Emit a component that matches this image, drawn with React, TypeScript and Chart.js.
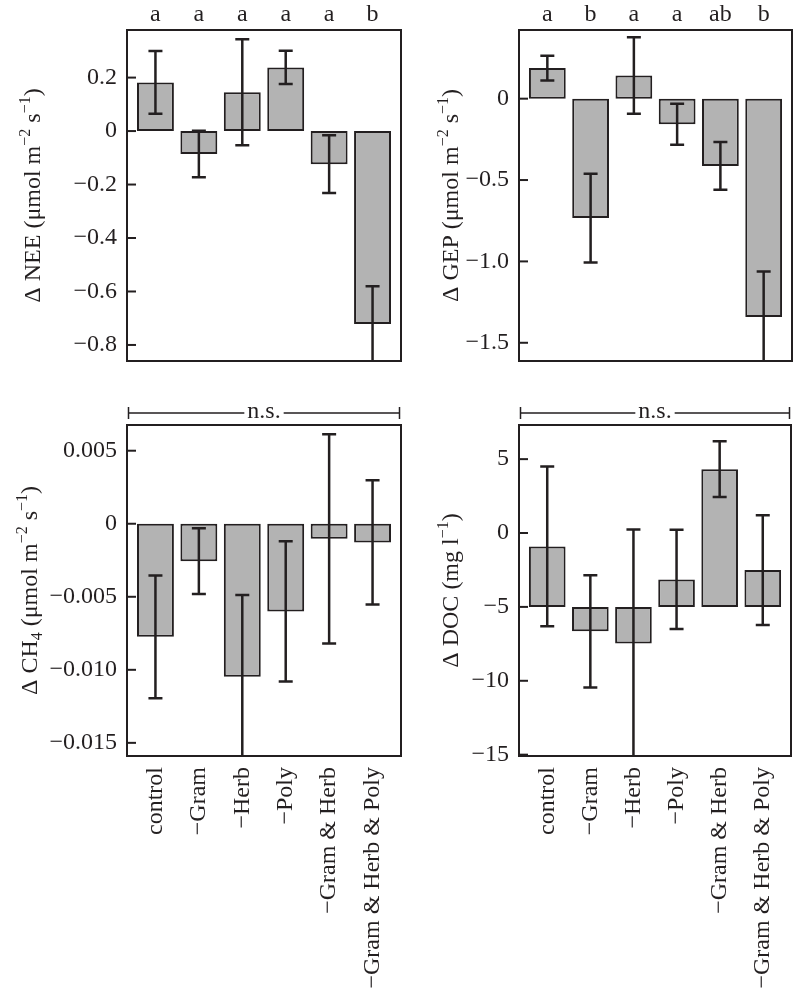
import React, { useEffect, useRef } from "react";
import { Chart, registerables } from "chart.js";

Chart.register(...registerables);

// ---------------- data ----------------
const CATEGORIES = ["control", "\u2212Gram", "\u2212Herb", "\u2212Poly", "\u2212Gram & Herb", "\u2212Gram & Herb & Poly"];

const NEE_MEAN = [0.182, -0.086, 0.145, 0.238, -0.124, -0.722];
const NEE_SE = [0.117, 0.087, 0.198, 0.062, 0.108, 0.142];
const NEE_LETTERS = ["a", "a", "a", "a", "a", "b"];
const NEE_TICKS = [0.2, 0, -0.2, -0.4, -0.6, -0.8];
const NEE_TICK_LABELS = ["0.2", "0", "\u22120.2", "\u22120.4", "\u22120.6", "\u22120.8"];

const GEP_MEAN = [0.188, -0.734, 0.143, -0.157, -0.413, -1.342];
const GEP_SE = [0.076, 0.273, 0.235, 0.126, 0.147, 0.28];
const GEP_LETTERS = ["a", "b", "a", "a", "ab", "b"];
const GEP_TICKS = [0, -0.5, -1.0, -1.5];
const GEP_TICK_LABELS = ["0", "\u22120.5", "\u22121.0", "\u22121.5"];

const CH4_MEAN = [-0.00774, -0.00256, -0.01048, -0.006, -0.00103, -0.00128];
const CH4_SE = [0.0042, 0.00225, 0.0056, 0.0048, 0.00716, 0.00425];
const CH4_TICKS = [0.005, 0, -0.005, -0.01, -0.015];
const CH4_TICK_LABELS = ["0.005", "0", "\u22120.005", "\u22120.010", "\u22120.015"];

const DOC_MEAN = [-0.905, -6.65, -7.47, -3.14, 4.32, -2.51];
const DOC_SE = [5.4, 3.8, 7.7, 3.36, 1.89, 3.72];
const DOC_TICKS = [5, 0, -5, -10, -15];
const DOC_TICK_LABELS = ["5", "0", "\u22125", "\u221210", "\u221215"];
const DOC_BASE = -5;

// ---------------- styling / layout ----------------
const FONT = "'Liberation Serif', 'Times New Roman', serif";
const INK = "#231f20";
const FILL = "#b3b3b3";
const CW = 830;
const CH = 994;

type Seg = { t: string; k?: "sup" | "sub" };

const UNIT_FLUX: Seg[] = [
  { t: " (\u03bcmol m" },
  { t: "\u22122", k: "sup" },
  { t: " s" },
  { t: "\u22121", k: "sup" },
  { t: ")" },
];

type Panel = {
  box: { l: number; r: number; t: number; b: number };
  yMin: number;
  yMax: number;
  mean: number[];
  se: number[];
  base: number;
  ticks: number[];
  tickLabels: string[];
  letters: string[] | null;
  ns: boolean;
  showX: boolean;
  title: Seg[];
  titleX: number;
};

const PANELS: Panel[] = [
  {
    box: { l: 127, r: 401, t: 30, b: 361 },
    yMin: -0.86, yMax: 0.378,
    mean: NEE_MEAN, se: NEE_SE, base: 0,
    ticks: NEE_TICKS, tickLabels: NEE_TICK_LABELS,
    letters: NEE_LETTERS, ns: false, showX: false,
    title: [{ t: "\u0394 NEE" }, ...UNIT_FLUX], titleX: 39.5,
  },
  {
    box: { l: 519, r: 792, t: 30, b: 361 },
    yMin: -1.612, yMax: 0.422,
    mean: GEP_MEAN, se: GEP_SE, base: 0,
    ticks: GEP_TICKS, tickLabels: GEP_TICK_LABELS,
    letters: GEP_LETTERS, ns: false, showX: false,
    title: [{ t: "\u0394 GEP" }, ...UNIT_FLUX], titleX: 457.5,
  },
  {
    box: { l: 127, r: 401, t: 425, b: 756 },
    yMin: -0.0159, yMax: 0.00676,
    mean: CH4_MEAN, se: CH4_SE, base: 0,
    ticks: CH4_TICKS, tickLabels: CH4_TICK_LABELS,
    letters: null, ns: true, showX: true,
    title: [{ t: "\u0394 CH" }, { t: "4", k: "sub" }, ...UNIT_FLUX], titleX: 37,
  },
  {
    box: { l: 519, r: 791, t: 425, b: 756 },
    yMin: -15.09, yMax: 7.31,
    mean: DOC_MEAN, se: DOC_SE, base: DOC_BASE,
    ticks: DOC_TICKS, tickLabels: DOC_TICK_LABELS,
    letters: null, ns: true, showX: true,
    title: [{ t: "\u0394 DOC (mg l" }, { t: "\u22121", k: "sup" }, { t: ")" }], titleX: 457.5,
  },
];

function drawRich(ctx: CanvasRenderingContext2D, segs: Seg[], x: number, y: number, size: number) {
  const small = Math.round(size * 0.68);
  ctx.save();
  ctx.translate(x, y);
  ctx.rotate(-Math.PI / 2);
  ctx.fillStyle = INK;
  ctx.textBaseline = "alphabetic";
  ctx.textAlign = "left";
  let total = 0;
  const widths = segs.map((s) => {
    ctx.font = `${s.k ? small : size}px ${FONT}`;
    const w = ctx.measureText(s.t).width;
    total += w;
    return w;
  });
  let cx = -total / 2;
  segs.forEach((s, i) => {
    ctx.font = `${s.k ? small : size}px ${FONT}`;
    const dy = s.k === "sup" ? -size * 0.4 : s.k === "sub" ? size * 0.22 : 0;
    ctx.fillText(s.t, cx, dy);
    cx += widths[i];
  });
  ctx.restore();
}

function makePlugin(p: Panel) {
  return {
    id: "panelDecor",
    afterDatasetsDraw(chart: any) {
      const ctx: CanvasRenderingContext2D = chart.ctx;
      const ca = chart.chartArea;
      const xs = chart.scales.x;
      const ys = chart.scales.y;

      // error bars (clipped to plot area)
      ctx.save();
      ctx.beginPath();
      ctx.rect(ca.left, ca.top, ca.right - ca.left, ca.bottom - ca.top);
      ctx.clip();
      ctx.strokeStyle = INK;
      ctx.lineWidth = 2.5;
      p.mean.forEach((m, i) => {
        const x = xs.getPixelForValue(i);
        const yH = ys.getPixelForValue(m + p.se[i]);
        const yL = ys.getPixelForValue(m - p.se[i]);
        ctx.beginPath();
        ctx.moveTo(x, yH);
        ctx.lineTo(x, yL);
        ctx.moveTo(x - 7, yH);
        ctx.lineTo(x + 7, yH);
        ctx.moveTo(x - 7, yL);
        ctx.lineTo(x + 7, yL);
        ctx.stroke();
      });
      ctx.restore();

      // frame
      ctx.save();
      ctx.strokeStyle = INK;
      ctx.lineWidth = 2;
      ctx.strokeRect(ca.left, ca.top, ca.right - ca.left, ca.bottom - ca.top);

      // inward y ticks
      ys.ticks.forEach((t: any) => {
        const y = ys.getPixelForValue(t.value);
        ctx.beginPath();
        ctx.moveTo(ca.left, y);
        ctx.lineTo(ca.left + 9, y);
        ctx.stroke();
      });

      ctx.fillStyle = INK;
      // significance letters
      if (p.letters) {
        ctx.font = `24px ${FONT}`;
        ctx.textAlign = "center";
        ctx.textBaseline = "alphabetic";
        p.letters.forEach((l, i) => {
          ctx.fillText(l, xs.getPixelForValue(i), ca.top - 9);
        });
      }

      // n.s. bracket
      if (p.ns) {
        ctx.font = `24px ${FONT}`;
        const txt = "n.s.";
        const w = ctx.measureText(txt).width;
        const cx = (ca.left + ca.right) / 2;
        const ly = ca.top - 12;
        const x0 = ca.left + 1.5;
        const x1 = ca.right - 1.5;
        ctx.lineWidth = 1.5;
        ctx.beginPath();
        ctx.moveTo(x0, ly);
        ctx.lineTo(cx - w / 2 - 3, ly);
        ctx.moveTo(cx + w / 2 + 3, ly);
        ctx.lineTo(x1, ly);
        ctx.moveTo(x0, ly - 6);
        ctx.lineTo(x0, ly + 6);
        ctx.moveTo(x1, ly - 6);
        ctx.lineTo(x1, ly + 6);
        ctx.stroke();
        ctx.textAlign = "center";
        ctx.textBaseline = "alphabetic";
        ctx.fillText(txt, cx, ca.top - 7);
      }
      ctx.restore();

      // y-axis title
      drawRich(ctx, p.title, p.titleX, (ca.top + ca.bottom) / 2, 24);
    },
  };
}

function PanelChart({ p }: { p: Panel }) {
  const ref = useRef<HTMLCanvasElement>(null);
  useEffect(() => {
    const canvas = ref.current;
    if (!canvas) return;
    const chart = new Chart(canvas, {
      type: "bar",
      data: {
        datasets: [
          {
            data: p.mean.map((v, i) => ({ x: i, y: [p.base, v] })) as any,
            backgroundColor: FILL,
            borderColor: INK,
            borderWidth: 2,
            borderSkipped: false,
            categoryPercentage: 1,
            barPercentage: 0.85,
          } as any,
        ],
      },
      options: {
        responsive: false,
        animation: false,
        events: [],
        layout: {
          padding: {
            left: p.box.l - 100,
            right: CW - p.box.r,
            top: p.box.t,
            bottom: 0,
          },
        },
        plugins: { legend: { display: false }, tooltip: { enabled: false } },
        scales: {
          x: {
            type: "linear",
            min: -0.655,
            max: 5.655,
            offset: false,
            display: true,
            afterBuildTicks: (s: any) => {
              s.ticks = CATEGORIES.map((_, i) => ({ value: i }));
            },
            afterFit: (s: any) => {
              s.height = CH - p.box.b;
            },
            grid: { display: false, drawTicks: false },
            border: { display: false },
            ticks: {
              display: p.showX,
              autoSkip: false,
              minRotation: 90,
              maxRotation: 90,
              padding: 11,
              color: INK,
              font: { family: FONT, size: 24 },
              callback: (v: any) => CATEGORIES[v] ?? "",
            },
          },
          y: {
            type: "linear",
            min: p.yMin,
            max: p.yMax,
            afterBuildTicks: (s: any) => {
              s.ticks = p.ticks.map((v) => ({ value: v }));
            },
            afterFit: (s: any) => {
              s.width = 100;
            },
            grid: { display: false, drawTicks: false },
            border: { display: false },
            ticks: {
              autoSkip: false,
              padding: 10,
              color: INK,
              font: { family: FONT, size: 24 },
              callback: (_v: any, i: number) => p.tickLabels[i] ?? "",
            },
          },
        },
      } as any,
      plugins: [makePlugin(p)],
    });
    return () => chart.destroy();
  }, [p]);
  return (
    <canvas
      ref={ref}
      width={CW}
      height={CH}
      style={{ position: "absolute", left: 0, top: 0, width: CW, height: CH }}
    />
  );
}

export default function App() {
  return (
    <div
      style={{
        position: "absolute",
        left: 0,
        top: 0,
        width: 794,
        height: 994,
        overflow: "hidden",
        background: "#ffffff",
      }}
    >
      {PANELS.map((p, i) => (
        <PanelChart key={i} p={p} />
      ))}
    </div>
  );
}
